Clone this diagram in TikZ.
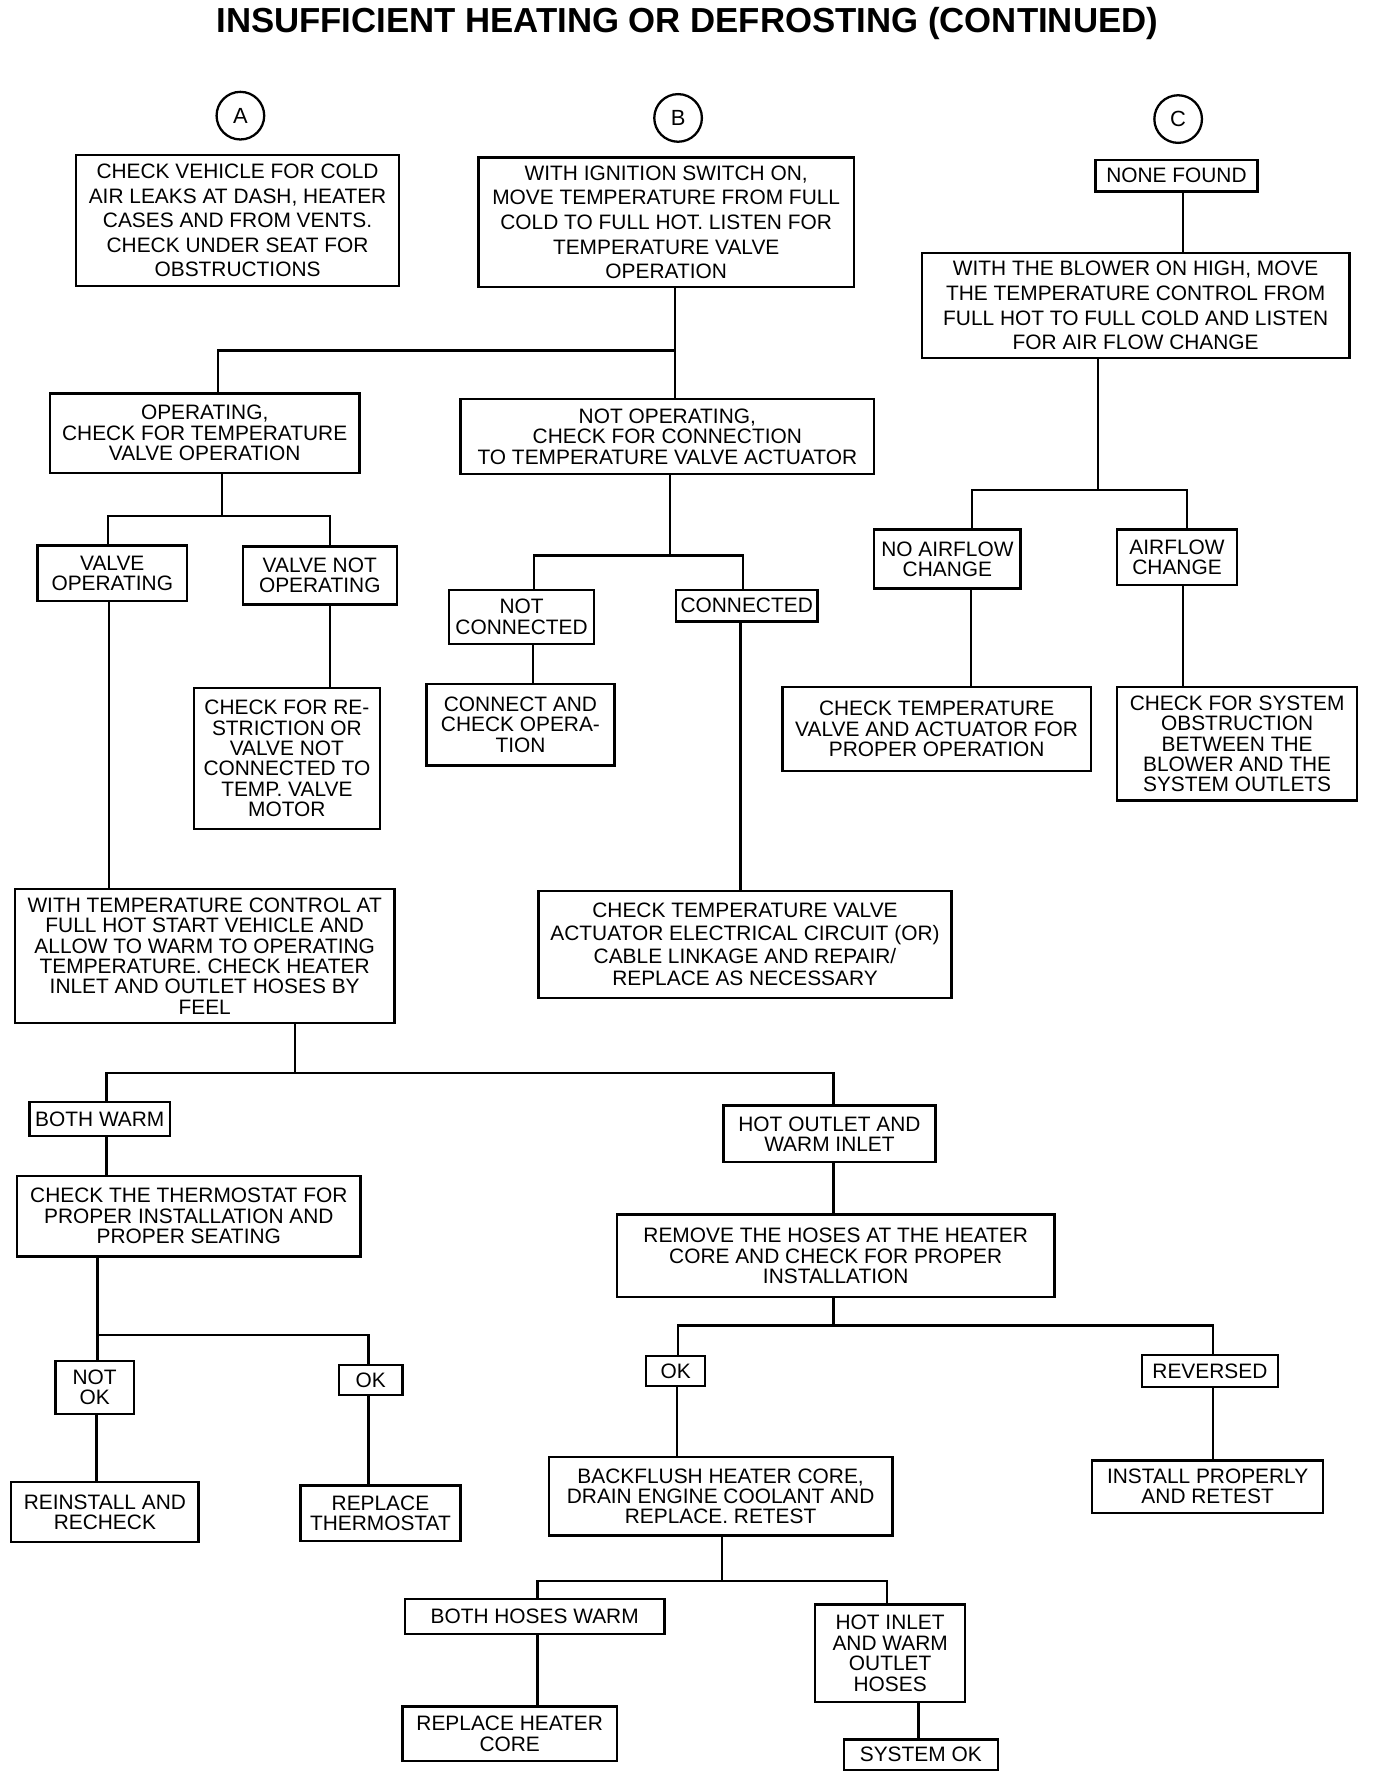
\documentclass[tikz,border=0pt]{standalone}
\usepackage{fontspec}
\setmainfont{Liberation Sans}
\usepackage{tikz}

\begin{document}
\begin{tikzpicture}[x=0.0227cm, y=-0.0227cm, line width=1.3pt, line join=miter,
    box/.style={draw, inner sep=0pt, align=center, font=\fontsize{11.9}{11.6}\selectfont},
    loose/.style={font=\fontsize{11.9}{14}\selectfont},
    dim/.style 2 args={minimum width=#1*0.0227cm, minimum height=#2*0.0227cm},
    tag/.style={draw, circle, inner sep=0pt, minimum size=42*0.0227cm, font=\fontsize{12.5}{14}\selectfont}]
    \useasboundingbox (0,0) rectangle (1213,1568);
    \node[anchor=base, font=\bfseries\fontsize{19.8}{22}\selectfont] (title) at (606,29) {INSUFFICIENT HEATING OR DEFROSTING (CONTINUED)};
    % column heads
    \node[tag] (A) at (212,102) {A};
    \node[tag] (B) at (598,104) {B};
    \node[tag] (C) at (1039,105) {C};
    % branch A
    \node[box, loose, dim={285}{115}] (a1) at (209.5,194.5) {CHECK VEHICLE FOR COLD\\AIR LEAKS AT DASH, HEATER\\CASES AND FROM VENTS.\\CHECK UNDER SEAT FOR\\OBSTRUCTIONS};
    % branch B
    \node[box, loose, dim={331}{114}] (b1) at (587.5,196) {WITH IGNITION SWITCH ON,\\MOVE TEMPERATURE FROM FULL\\COLD TO FULL HOT. LISTEN FOR\\TEMPERATURE VALVE\\OPERATION};
    \node[box, dim={273}{70}] (b2) at (180.5,382) {OPERATING,\\CHECK FOR TEMPERATURE\\VALVE OPERATION};
    \node[box, dim={365}{66}] (b3) at (588.5,385) {NOT OPERATING,\\CHECK FOR CONNECTION\\TO TEMPERATURE VALVE ACTUATOR};
    \node[box, dim={132}{49}] (b4) at (99,505.5) {VALVE\\OPERATING};
    \node[box, dim={136}{51}] (b5) at (282,507.5) {VALVE NOT\\OPERATING};
    \node[box, dim={164}{124}] (b6) at (253,669) {CHECK FOR RE-\\STRICTION OR\\VALVE NOT\\CONNECTED TO\\TEMP. VALVE\\MOTOR};
    \node[box, dim={335}{118}] (b7) at (180.5,843) {WITH TEMPERATURE CONTROL AT\\FULL HOT START VEHICLE AND\\ALLOW TO WARM TO OPERATING\\TEMPERATURE. CHECK HEATER\\INLET AND OUTLET HOSES BY\\FEEL};
    \node[box, dim={128}{48}] (b8) at (460,544) {NOT\\CONNECTED};
    \node[box, dim={125}{28}] (b9) at (658.5,534) {CONNECTED};
    \node[box, dim={166}{72}] (b10) at (459,639) {CONNECT AND\\CHECK OPERA-\\TION};
    \node[box, dim={364}{94}, font=\fontsize{11.9}{12.9}\selectfont] (b11) at (657,833) {CHECK TEMPERATURE VALVE\\ACTUATOR ELECTRICAL CIRCUIT (OR)\\CABLE LINKAGE AND REPAIR/\\REPLACE AS NECESSARY};
    % branch C
    \node[box, dim={143}{28}] (c1) at (1037.5,155) {NONE FOUND};
    \node[box, loose, dim={377}{93}] (c2) at (1001.5,269.5) {WITH THE BLOWER ON HIGH, MOVE\\THE TEMPERATURE CONTROL FROM\\FULL HOT TO FULL COLD AND LISTEN\\FOR AIR FLOW CHANGE};
    \node[box, dim={129}{52}] (c3) at (835.5,493) {NO AIRFLOW\\CHANGE};
    \node[box, dim={106}{49}] (c4) at (1038,491.5) {AIRFLOW\\CHANGE};
    \node[box, dim={272}{74}] (c5) at (826,643) {CHECK TEMPERATURE\\VALVE AND ACTUATOR FOR\\PROPER OPERATION};
    \node[box, dim={212}{100}] (c6) at (1091,656) {CHECK FOR SYSTEM\\OBSTRUCTION\\BETWEEN THE\\BLOWER AND THE\\SYSTEM OUTLETS};
    % hose check
    \node[box, dim={124}{30}] (d1) at (88,987) {BOTH WARM};
    \node[box, dim={187}{50}] (d2) at (731.5,1000) {HOT OUTLET AND\\WARM INLET};
    \node[box, dim={303}{71}] (d3) at (166.5,1072.5) {CHECK THE THERMOSTAT FOR\\PROPER INSTALLATION AND\\PROPER SEATING};
    \node[box, dim={69}{47}] (d4) at (83.5,1223.5) {NOT\\OK};
    \node[box, dim={56}{26}] (d5) at (327,1217) {OK};
    \node[box, dim={165}{53}] (d6) at (92.5,1333.5) {REINSTALL AND\\RECHECK};
    \node[box, dim={141}{49}] (d7) at (335.5,1334.5) {REPLACE\\THERMOSTAT};
    \node[box, dim={386}{73}] (e1) at (737,1107.5) {REMOVE THE HOSES AT THE HEATER\\CORE AND CHECK FOR PROPER\\INSTALLATION};
    \node[box, dim={52}{26}] (e2) at (596,1209) {OK};
    \node[box, dim={120}{28}] (e3) at (1067,1209) {REVERSED};
    \node[box, dim={303}{69}] (e4) at (635.5,1319.5) {BACKFLUSH HEATER CORE,\\DRAIN ENGINE COOLANT AND\\REPLACE. RETEST};
    \node[box, dim={204}{46}] (e5) at (1065,1311) {INSTALL PROPERLY\\AND RETEST};
    \node[box, dim={229}{31}] (e6) at (471.5,1425.5) {BOTH HOSES WARM};
    \node[box, dim={132}{86}] (e7) at (785,1458) {HOT INLET\\AND WARM\\OUTLET\\HOSES};
    \node[box, dim={189}{48}] (e8) at (449.5,1529) {REPLACE HEATER\\CORE};
    \node[box, dim={136}{27}] (e9) at (812,1547.5) {SYSTEM OK};
    % junctions
    \coordinate (jb) at (595,309);
    \coordinate (jo) at (196,455);
    \coordinate (jn) at (591,490);
    \coordinate (jc) at (968,432);
    \coordinate (jw) at (260,946);
    \coordinate (jt) at (86,1177);
    \coordinate (jh) at (735,1169);
    \coordinate (jr) at (637,1394);
    % forks
    \draw (b1.south -| jb) -- (jb) -| (b2.north -| 192,0);
    \draw (jb) -- (b3.north -| jb);
    \draw (b2.south -| jo) -- (jo) -| (b4.north -| 95,0);
    \draw (jo) -| (b5.north -| 291,0);
    \draw (b3.south -| jn) -- (jn) -| (b8.north -| 471,0);
    \draw (jn) -| (b9.north -| 655,0);
    \draw (c2.south -| jc) -- (jc) -| (c3.north -| 857,0);
    \draw (jc) -| (c4.north -| 1047,0);
    \draw (b7.south -| jw) -- (jw) -| (d1.north -| 94,0);
    \draw (jw) -| (d2.north -| 735,0);
    \draw (d3.south -| jt) -- (d4.north -| jt);
    \draw (jt) -| (d5.north -| 325,0);
    \draw (e1.south -| jh) -- (jh) -| (e2.north -| 598,0);
    \draw (jh) -| (e3.north -| 1070,0);
    \draw (e4.south -| jr) -- (jr) -| (e6.north -| 474,0);
    \draw (jr) -| (e7.north -| 782,0);
    % straight links
    \draw (c1.south -| 1043,0) -- (c2.north -| 1043,0);
    \draw (b5.south -| 291,0) -- (b6.north -| 291,0);
    \draw (b4.south -| 96,0) -- (b7.north -| 96,0);
    \draw (b8.south -| 470,0) -- (b10.north -| 470,0);
    \draw (b9.south -| 653,0) -- (b11.north -| 653,0);
    \draw (c3.south -| 856,0) -- (c5.north -| 856,0);
    \draw (c4.south -| 1043,0) -- (c6.north -| 1043,0);
    \draw (d1.south -| 94,0) -- (d3.north -| 94,0);
    \draw (d4.south -| 85,0) -- (d6.north -| 85,0);
    \draw (d5.south -| 325,0) -- (d7.north -| 325,0);
    \draw (d2.south -| 735,0) -- (e1.north -| 735,0);
    \draw (e2.south -| 597,0) -- (e4.north -| 597,0);
    \draw (e3.south -| 1070,0) -- (e5.north -| 1070,0);
    \draw (e6.south -| 474,0) -- (e8.north -| 474,0);
    \draw (e7.south -| 810,0) -- (e9.north -| 810,0);
\end{tikzpicture}
\end{document}
